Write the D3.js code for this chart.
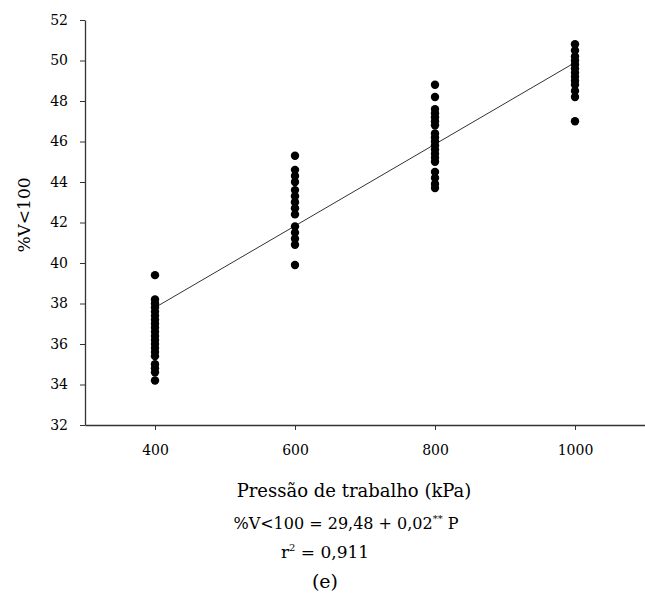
<!DOCTYPE html>
<html>
<head>
<meta charset="utf-8">
<script src="https://cdn.jsdelivr.net/npm/d3@7"></script>
<style>
  body { margin: 0; background: #fff; }
  svg text { fill: #000; }
</style>
</head>
<body>
<div id="chart"></div>
<script>
// observed %V<100 values per working pressure (kPa)
const pressures = [400, 600, 800, 1000];
const vals400 = [39.4, 38.2, 38.0, 37.8, 37.6, 37.4, 37.2, 37.0, 36.8, 36.6, 36.4, 36.2, 36.0, 35.8, 35.6, 35.4, 35.0, 34.8, 34.6, 34.2];
const vals600 = [45.3, 44.6, 44.3, 44.0, 43.6, 43.3, 43.0, 42.7, 42.4, 41.8, 41.5, 41.2, 40.9, 39.9];
const vals800 = [48.8, 48.2, 47.6, 47.4, 47.2, 47.0, 46.8, 46.4, 46.2, 46.0, 45.8, 45.6, 45.4, 45.2, 45.0, 44.5, 44.2, 43.9, 43.7];
const vals1000 = [50.8, 50.5, 50.2, 50.0, 49.8, 49.6, 49.4, 49.2, 49.0, 48.8, 48.5, 48.2, 47.0];
// fitted line end points
const fitP = [400, 1000];
const fitV = [37.8, 49.9];

const xTicks = [400, 600, 800, 1000];
const yTicks = [32, 34, 36, 38, 40, 42, 44, 46, 48, 50, 52];

const serif = "DejaVu Serif";

const width = 645, height = 600;
const margin = { top: 20, right: 0, bottom: 175, left: 85 };

const svg = d3.select("#chart")
    .append("svg")
    .attr("width", width)
    .attr("height", height)
    .attr("font-family", serif);

const x = d3.scaleLinear().domain([300, 1100]).range([margin.left, width - margin.right]);
const y = d3.scaleLinear().domain([32, 52]).range([height - margin.bottom, margin.top]);

const points = [];
[vals400, vals600, vals800, vals1000].forEach((arr, i) => {
    arr.forEach(v => points.push({ p: pressures[i], v: v }));
});

// x axis
const xAxis = svg.append("g")
    .attr("transform", `translate(0,${y(32)})`)
    .call(d3.axisBottom(x).tickValues(xTicks).tickFormat(d3.format("d"))
        .tickSize(5).tickSizeOuter(0).tickPadding(15));

// y axis
const yAxis = svg.append("g")
    .attr("transform", `translate(${x(300)},0)`)
    .call(d3.axisLeft(y).tickValues(yTicks).tickSize(5).tickSizeOuter(0).tickPadding(12));

[xAxis, yAxis].forEach(g => {
    g.attr("font-family", serif);
    g.select(".domain").attr("stroke", "#333").attr("stroke-width", 1.3);
    g.selectAll(".tick line").attr("stroke", "#333");
    g.selectAll(".tick text").attr("font-size", 14).attr("fill", "#000");
});

// regression line
svg.append("line")
    .attr("x1", x(fitP[0])).attr("y1", y(fitV[0]))
    .attr("x2", x(fitP[1])).attr("y2", y(fitV[1]))
    .attr("stroke", "#333")
    .attr("stroke-width", 1);

// points
svg.selectAll(".pt")
    .data(points)
    .enter()
    .append("circle")
    .attr("cx", d => x(d.p))
    .attr("cy", d => y(d.v))
    .attr("r", 4.2)
    .attr("fill", "#000");

// y label
svg.append("text")
    .attr("transform", "translate(30,215) rotate(-90)")
    .attr("text-anchor", "middle")
    .attr("font-size", 17)
    .text("%V<100");

// x label + equation lines
svg.append("text")
    .attr("x", 354).attr("y", 497)
    .attr("text-anchor", "middle")
    .attr("font-size", 18)
    .text("Pressão de trabalho (kPa)");

const eq = svg.append("text")
    .attr("x", 346).attr("y", 529)
    .attr("text-anchor", "middle")
    .attr("font-size", 16);
eq.append("tspan").text("%V<100 = 29,48 + 0,02");
eq.append("tspan").attr("dy", -7).attr("font-size", 10).text("**");
eq.append("tspan").attr("dy", 7).text(" P");

const r2 = svg.append("text")
    .attr("x", 325).attr("y", 558)
    .attr("text-anchor", "middle")
    .attr("font-size", 17);
r2.append("tspan").text("r");
r2.append("tspan").attr("dy", -7).attr("font-size", 10).text("2");
r2.append("tspan").attr("dy", 7).text(" = 0,911");

svg.append("text")
    .attr("x", 325).attr("y", 588)
    .attr("text-anchor", "middle")
    .attr("font-size", 19)
    .text("(e)");
</script>
</body>
</html>
